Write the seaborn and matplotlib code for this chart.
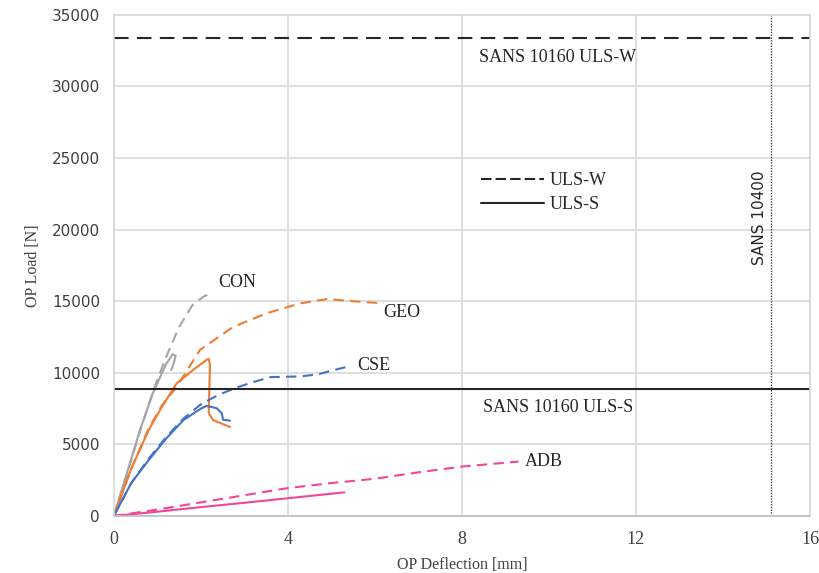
import numpy as np
import pandas as pd
import matplotlib
matplotlib.use("Agg")
import matplotlib.pyplot as plt
from matplotlib.lines import Line2D
import seaborn as sns

# OP deflection [mm] / OP load [N]
con_w_x = [0, 0.3, 0.6, 0.9, 1.2, 1.5, 1.8, 2.05, 2.25]
con_w_y = [0, 2900, 5900, 8700, 11100, 13200, 14700, 15300, 15600]
con_s_x = [0, 0.3, 0.6, 0.9, 1.2, 1.35, 1.42, 1.38, 1.32]
con_s_y = [0, 3000, 6000, 8600, 10600, 11300, 11200, 10700, 10200]

geo_w_x = [0, 0.4, 0.8, 1.1, 1.44, 1.98, 2.74, 3.5, 4.28, 4.9, 5.5, 6.2]
geo_w_y = [0, 3300, 6100, 7700, 9000, 11600, 13200, 14150, 14850, 15150, 15000, 14850]
geo_s_x = [0, 0.4, 0.8, 1.1, 1.44, 1.82, 2.13, 2.18, 2.21, 2.18, 2.28, 2.44, 2.67]
geo_s_y = [0, 3300, 6000, 7600, 9250, 10200, 10900, 10980, 10550, 7200, 6700, 6500, 6220]

cse_w_x = [0, 0.4, 0.8, 1.2, 1.6, 2.0, 2.4, 2.8, 3.2, 3.6, 4.3, 4.7, 5.0, 5.4]
cse_w_y = [0, 2300, 4000, 5500, 6800, 7800, 8450, 8950, 9350, 9700, 9750, 9900, 10150, 10450]
cse_s_x = [0, 0.4, 0.8, 1.2, 1.6, 2.0, 2.13, 2.36, 2.48, 2.51, 2.67]
cse_s_y = [0, 2300, 3900, 5400, 6700, 7500, 7690, 7530, 7180, 6720, 6660]

adb_w_x = [0, 1, 2, 3, 4, 5, 6, 7, 8, 9.3]
adb_w_y = [0, 450, 950, 1450, 1950, 2300, 2600, 3050, 3450, 3800]
adb_s_x = [0, 1, 2, 3, 4, 5.3]
adb_s_y = [0, 300, 620, 920, 1240, 1650]

specimens = ["CON", "GEO", "CSE", "ADB"]
colors = {"CON": "#a5a5a5", "GEO": "#ed7d31", "CSE": "#4472c4", "ADB": "#f0479a"}

uls_w = 33400
uls_s = 8850
sans_10400 = 15.1

series = {
    ("CON", "ULS-W"): (con_w_x, con_w_y), ("CON", "ULS-S"): (con_s_x, con_s_y),
    ("GEO", "ULS-W"): (geo_w_x, geo_w_y), ("GEO", "ULS-S"): (geo_s_x, geo_s_y),
    ("CSE", "ULS-W"): (cse_w_x, cse_w_y), ("CSE", "ULS-S"): (cse_s_x, cse_s_y),
    ("ADB", "ULS-W"): (adb_w_x, adb_w_y), ("ADB", "ULS-S"): (adb_s_x, adb_s_y),
}
frames = []
for (spec, ls), (xs, ys) in series.items():
    frames.append(pd.DataFrame({"x": xs, "y": ys, "spec": spec, "ls": ls,
                                "id": f"{spec}-{ls}", "i": range(len(xs))}))
df = pd.concat(frames, ignore_index=True)

sns.set_style("whitegrid")
serif = "Liberation Serif"
sansf = "DejaVu Sans"

fig = plt.figure(figsize=(8.19, 5.73), dpi=100)
ax = fig.add_axes([0.139, 0.0995, 0.850, 0.8745])

sns.lineplot(data=df, x="x", y="y", hue="spec", style="ls", units="id",
             estimator=None, sort=False, palette=colors,
             dashes={"ULS-W": (5, 3), "ULS-S": ""}, linewidth=1.5,
             legend=False, ax=ax)

ax.axhline(uls_w, color="#262626", lw=1.5, dashes=(7, 4))
ax.axhline(uls_s, color="#262626", lw=1.5)
ax.axvline(sans_10400, color="#404040", lw=1.0, ls=(0, (1, 1)))

ax.set_xlim(0, 16)
ax.set_ylim(0, 35000)
ax.set_xticks([0, 4, 8, 12, 16])
ax.set_yticks(range(0, 35001, 5000))
ax.grid(True, color="#d9d9d9", lw=1.2)
for s in ax.spines.values():
    s.set_color("#d9d9d9")
    s.set_linewidth(1.2)
ax.spines["bottom"].set_color("#bfbfbf")
ax.tick_params(length=0)
ax.tick_params(axis="x", pad=11)
ax.tick_params(axis="y", pad=10)
for lab in ax.get_xticklabels():
    lab.set_fontfamily(serif)
    lab.set_fontsize(13)
    lab.set_color("#404040")
for lab in ax.get_yticklabels():
    lab.set_fontfamily(sansf)
    lab.set_fontsize(11)
    lab.set_color("#404040")

ax.set_xlabel("OP Deflection [mm]", fontfamily=serif, fontsize=11.5, color="#404040", labelpad=6)
ax.set_ylabel("OP Load [N]", fontfamily=serif, fontsize=11.5, color="#404040", labelpad=8)

tk = dict(fontfamily=serif, fontsize=13, color="#262626")
ax.text(10.2, 32000, "SANS 10160 ULS-W", ha="center", va="center", **tk)
ax.text(10.2, 7600, "SANS 10160 ULS-S", ha="center", va="center", **tk)
ax.text(14.85, 20800, "SANS 10400", rotation=90, ha="center", va="center",
        fontfamily=sansf, fontsize=11, color="#262626")
ax.text(2.4, 16300, "CON", ha="left", va="center", **tk)
ax.text(6.2, 14200, "GEO", ha="left", va="center", **tk)
ax.text(5.6, 10500, "CSE", ha="left", va="center", **tk)
ax.text(9.45, 3800, "ADB", ha="left", va="center", **tk)

handles = [Line2D([], [], color="#262626", lw=1.5, dashes=(5, 2)),
           Line2D([], [], color="#262626", lw=1.5)]
ax.legend(handles, ["ULS-W", "ULS-S"], loc="center", bbox_to_anchor=(0.617, 0.645),
          frameon=False, handlelength=3.5, handletextpad=0.3, labelspacing=0.4,
          prop={"family": serif, "size": 13})

fig.savefig("out.png", dpi=100)
